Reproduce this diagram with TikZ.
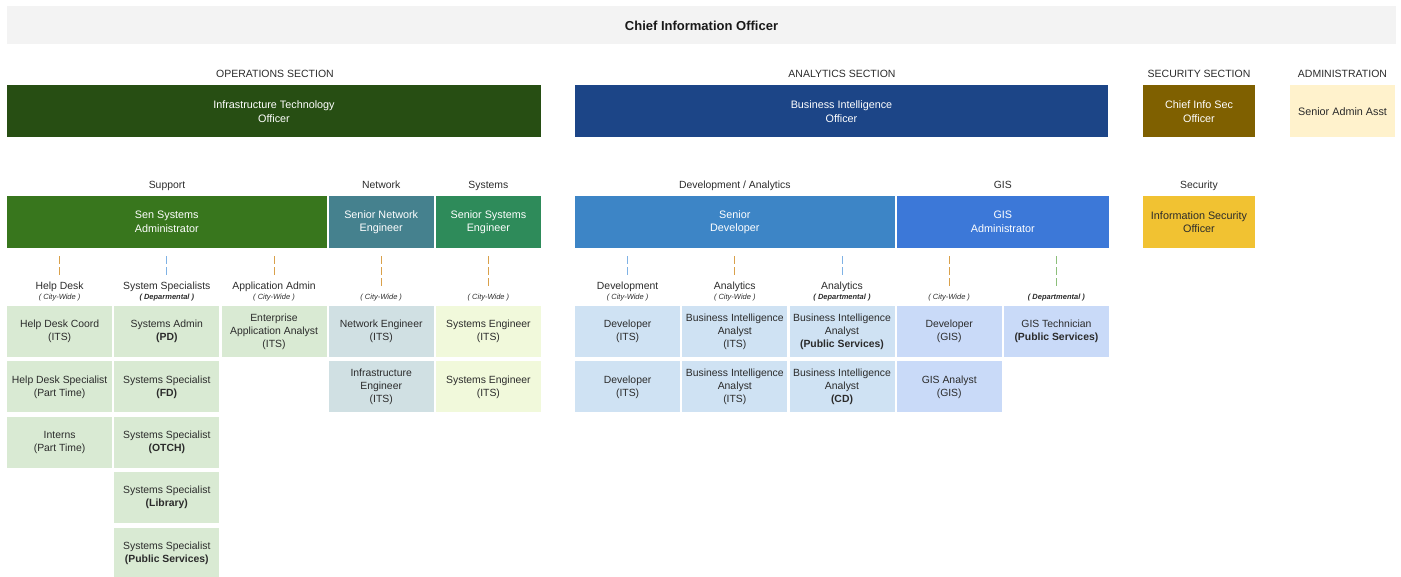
\documentclass[tikz,border=0pt]{standalone}
\usepackage{fontspec}
\setmainfont{Liberation Sans}
\usetikzlibrary{calc,positioning}
\usepackage{xcolor}

\definecolor{topgray}{HTML}{F3F3F3}
\definecolor{textgray}{HTML}{2B2B2B}
\definecolor{infragreen}{HTML}{274E13}
\definecolor{biblue}{HTML}{1C4587}
\definecolor{cisobrown}{HTML}{7F6000}
\definecolor{admincream}{HTML}{FFF2CC}
\definecolor{sysadmgreen}{HTML}{38761D}
\definecolor{netteal}{HTML}{45818E}
\definecolor{sysengreen}{HTML}{2E8B5A}
\definecolor{devblue}{HTML}{3D85C6}
\definecolor{gisblue}{HTML}{3C78D8}
\definecolor{isoyellow}{HTML}{F1C232}
\definecolor{supportcell}{HTML}{D9EAD3}
\definecolor{networkcell}{HTML}{D0E0E3}
\definecolor{systemscell}{HTML}{F1F9DB}
\definecolor{devcell}{HTML}{CFE2F3}
\definecolor{giscell}{HTML}{C9DAF8}
\definecolor{dashorange}{HTML}{D9A04A}
\definecolor{dashblue}{HTML}{7FB2E5}
\definecolor{dashgreen}{HTML}{8CBF7A}

\begin{document}
\begin{tikzpicture}[x=1pt, y=-1pt,
    every node/.style={font=\fontsize{10.4}{13}\selectfont, align=center, inner sep=0pt, text=textgray},
    box/.style={rectangle, minimum height=52pt, text=white, font=\fontsize{10.8}{13.5}\selectfont},
    cell/.style={rectangle, minimum width=105pt, minimum height=51pt},
    heading/.style={anchor=base, font=\fontsize{10.5}{12}\selectfont},
    group/.style={anchor=base, font=\fontsize{10.4}{12}\selectfont},
    team/.style={anchor=base, font=\fontsize{10.4}{12}\selectfont},
    reach/.style={anchor=base, font=\fontsize{7.5}{9}\selectfont\itshape},
    dept/.style={reach, font=\fontsize{7.5}{9}\selectfont\itshape\bfseries},
    link/.style={line width=1pt, dash pattern=on 8pt off 3pt, shorten <=8pt, shorten >=6pt}]
      \useasboundingbox (0,0) rectangle (1401,577);

      % chief
      \node [rectangle, fill=topgray, minimum width=1389pt, minimum height=38pt, name=cio] at (701.5,25) {};
      \node [font=\fontsize{13}{15}\selectfont\bfseries, text=black!90, anchor=base, name=ciotext]
      at (701.5,30.5) {Chief Information Officer};

      % sections
      \node [heading, name=opshead] at (275,78) {OPERATIONS SECTION};
      \node [heading, name=anahead] at (842,78) {ANALYTICS SECTION};
      \node [heading, name=sechead] at (1199,78) {SECURITY SECTION};
      \node [heading, name=admhead] at (1342.5,78) {ADMINISTRATION};

      \node [box, fill=infragreen, minimum width=534pt, name=ito] at (274,111.5)
      {Infrastructure Technology\\Officer};
      \node [box, fill=biblue, minimum width=533pt, name=bio] at (841.5,111.5)
      {Business Intelligence\\Officer};
      \node [box, fill=cisobrown, minimum width=112pt, name=ciso] at (1199,111.5)
      {Chief Info Sec\\Officer};
      \node [box, fill=admincream, text=textgray, minimum width=105pt, name=asst] at (1342.5,111.5)
      {Senior Admin Asst};

      % groups
      \node [group, name=supphead] at (167,189) {Support};
      \node [group, name=nethead] at (381.2,189) {Network};
      \node [group, name=syshead] at (488.4,189) {Systems};
      \node [group, name=devhead] at (734.8,189) {Development / Analytics};
      \node [group, name=gishead] at (1002.8,189) {GIS};
      \node [group, name=isohead] at (1199,189) {Security};

      \node [box, fill=sysadmgreen, minimum width=319.6pt, name=sysadm] at (166.8,222)
      {Sen Systems\\Administrator};
      \node [box, fill=netteal, minimum width=105.2pt, name=netmgr] at (381.2,222)
      {Senior Network\\Engineer};
      \node [box, fill=sysengreen, minimum width=105.2pt, name=sysmgr] at (488.4,222)
      {Senior Systems\\Engineer};
      \node [box, fill=devblue, minimum width=319.6pt, name=devmgr] at (734.8,222)
      {Senior\\Developer};
      \node [box, fill=gisblue, minimum width=212.4pt, name=gismgr] at (1002.8,222)
      {GIS\\Administrator};
      \node [box, fill=isoyellow, text=textgray, minimum width=112pt, name=iso] at (1199,222)
      {Information Security\\Officer};

      % team labels
      \node [team, name=hdtitle] at (59.6,290) {Help Desk};
      \node [reach, name=hdreach] at (59.6,300) {( City-Wide )};
      \node [team, name=sstitle] at (166.8,290) {System Specialists};
      \node [dept, name=ssreach] at (166.8,300) {( Deparmental )};
      \node [team, name=aatitle] at (274,290) {Application Admin};
      \node [reach, name=aareach] at (274,300) {( City-Wide )};
      \node [reach, name=netreach] at (381.2,300) {( City-Wide )};
      \node [reach, name=sysreach] at (488.4,300) {( City-Wide )};
      \node [team, name=devtitle] at (627.6,290) {Development};
      \node [reach, name=devreach] at (627.6,300) {( City-Wide )};
      \node [team, name=actitle] at (734.8,290) {Analytics};
      \node [reach, name=acreach] at (734.8,300) {( City-Wide )};
      \node [team, name=adtitle] at (842,290) {Analytics};
      \node [dept, name=adreach] at (842,300) {( Departmental )};
      \node [reach, name=gcreach] at (949.2,300) {( City-Wide )};
      \node [dept, name=gdreach] at (1056.4,300) {( Departmental )};

      \draw [link, dashorange] (sysadm.south -| hdtitle.north) -- (hdtitle.north);
      \draw [link, dashblue] (sysadm.south -| sstitle.north) -- (sstitle.north);
      \draw [link, dashorange] (sysadm.south -| aatitle.north) -- (aatitle.north);
      \draw [link, dashorange] (netmgr.south) -- (netreach.north);
      \draw [link, dashorange] (sysmgr.south) -- (sysreach.north);
      \draw [link, dashblue] (devmgr.south -| devtitle.north) -- (devtitle.north);
      \draw [link, dashorange] (devmgr.south -| actitle.north) -- (actitle.north);
      \draw [link, dashblue] (devmgr.south -| adtitle.north) -- (adtitle.north);
      \draw [link, dashorange] (gismgr.south -| gcreach.north) -- (gcreach.north);
      \draw [link, dashgreen] (gismgr.south -| gdreach.north) -- (gdreach.north);

      % support cells
      \node [cell, fill=supportcell, name=hd1] at (59.6,331.5) {Help Desk Coord\\(ITS)};
      \node [cell, fill=supportcell, below=4pt of hd1, name=hd2] {Help Desk Specialist\\(Part Time)};
      \node [cell, fill=supportcell, below=4pt of hd2, name=hd3] {Interns\\(Part Time)};

      \node [cell, fill=supportcell, name=ss1] at (166.8,331.5) {Systems Admin\\\textbf{(PD)}};
      \node [cell, fill=supportcell, below=4pt of ss1, name=ss2] {Systems Specialist\\\textbf{(FD)}};
      \node [cell, fill=supportcell, below=4pt of ss2, name=ss3] {Systems Specialist\\\textbf{(OTCH)}};
      \node [cell, fill=supportcell, below=4pt of ss3, name=ss4] {Systems Specialist\\\textbf{(Library)}};
      \node [cell, fill=supportcell, below=4pt of ss4, name=ss5] {Systems Specialist\\\textbf{(Public Services)}};

      \node [cell, fill=supportcell, name=aa1] at (274,331.5) {Enterprise\\Application Analyst\\(ITS)};

      % network and systems cells
      \node [cell, fill=networkcell, name=net1] at (381.2,331.5) {Network Engineer\\(ITS)};
      \node [cell, fill=networkcell, below=4pt of net1, name=net2] {Infrastructure\\Engineer\\(ITS)};
      \node [cell, fill=systemscell, name=sys1] at (488.4,331.5) {Systems Engineer\\(ITS)};
      \node [cell, fill=systemscell, below=4pt of sys1, name=sys2] {Systems Engineer\\(ITS)};

      % development / analytics cells
      \node [cell, fill=devcell, name=dev1] at (627.6,331.5) {Developer\\(ITS)};
      \node [cell, fill=devcell, below=4pt of dev1, name=dev2] {Developer\\(ITS)};
      \node [cell, fill=devcell, name=ac1] at (734.8,331.5) {Business Intelligence\\Analyst\\(ITS)};
      \node [cell, fill=devcell, below=4pt of ac1, name=ac2] {Business Intelligence\\Analyst\\(ITS)};
      \node [cell, fill=devcell, name=ad1] at (842,331.5) {Business Intelligence\\Analyst\\\textbf{(Public Services)}};
      \node [cell, fill=devcell, below=4pt of ad1, name=ad2] {Business Intelligence\\Analyst\\\textbf{(CD)}};

      % gis cells
      \node [cell, fill=giscell, name=gc1] at (949.2,331.5) {Developer\\(GIS)};
      \node [cell, fill=giscell, below=4pt of gc1, name=gc2] {GIS Analyst\\(GIS)};
      \node [cell, fill=giscell, name=gd1] at (1056.4,331.5) {GIS Technician\\\textbf{(Public Services)}};
    \end{tikzpicture}
\end{document}
